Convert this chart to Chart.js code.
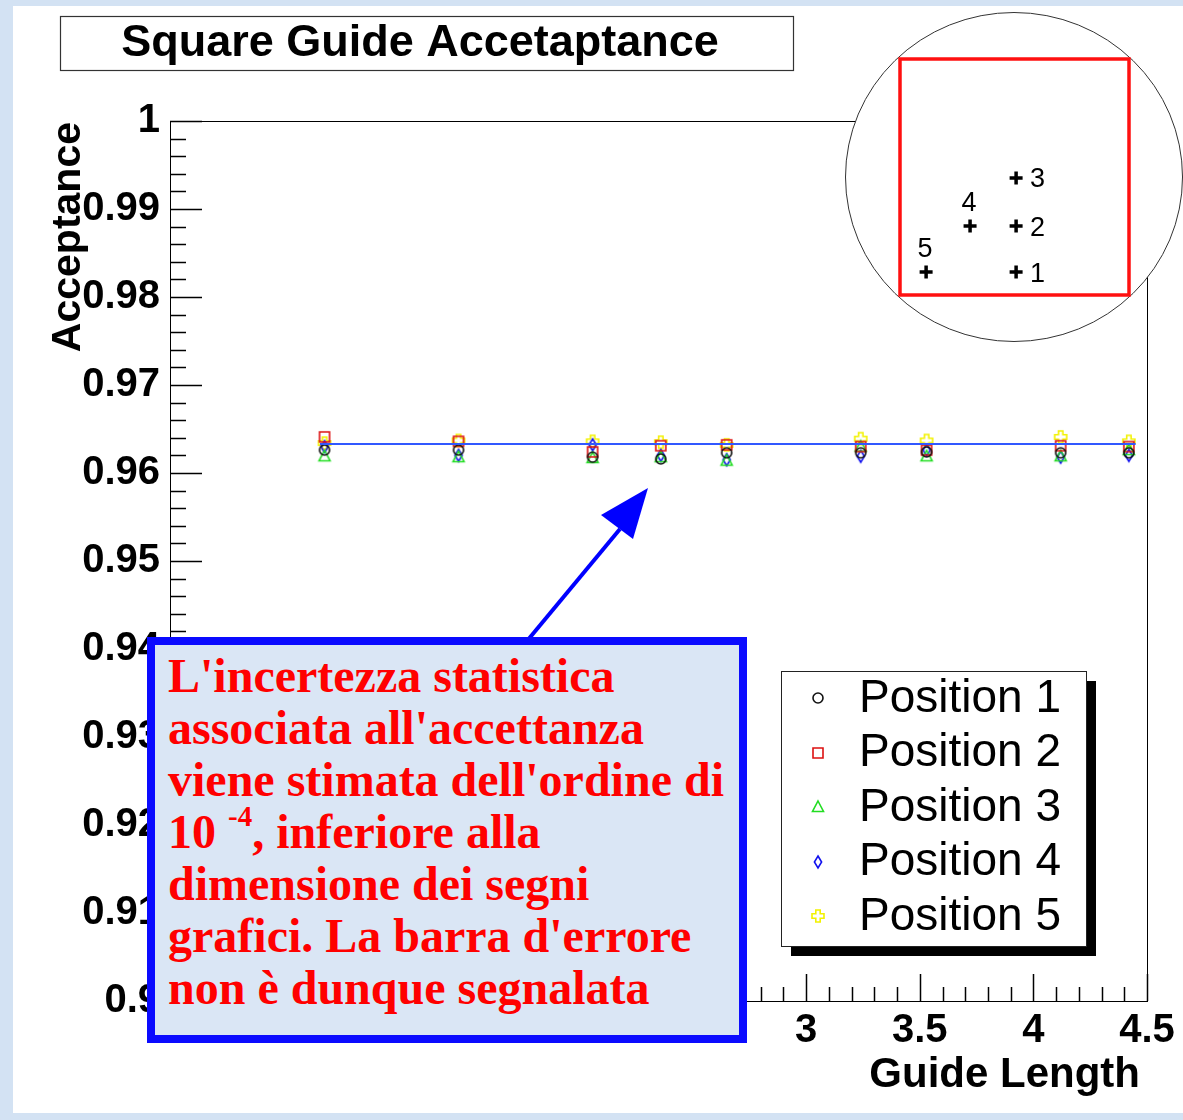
<!DOCTYPE html>
<html>
<head>
<meta charset="utf-8">
<script src="https://cdn.jsdelivr.net/npm/chart.js@4.4.1/dist/chart.umd.min.js"></script>
<style>
  html, body { margin: 0; padding: 0; }
  body {
    width: 1183px; height: 1120px; overflow: hidden; position: relative;
    background: #d3e2f3;
    font-family: "Liberation Sans", Arial, sans-serif;
  }
  #panel { position: absolute; left: 13px; top: 6px; width: 1170px; height: 1107px; background: #ffffff; }
  #main { position: absolute; left: 0; top: 0; }
  #inset { position: absolute; left: 840px; top: 8px; }
  #arrow { position: absolute; left: 0; top: 0; }
  #note {
    position: absolute; left: 147px; top: 637px; width: 600px; height: 406px;
    box-sizing: border-box; border: 8px solid #0b0bff; background: #dae6f5;
    padding: 5px 0 0 13px;
    font-family: "Liberation Serif", "Times New Roman", serif; font-weight: bold;
    font-size: 48px; line-height: 52px; color: #ff0000; white-space: nowrap;
  }
  #note sup { font-size: 29px; line-height: 0; vertical-align: 22px; }
</style>
</head>
<body>
<div id="panel"></div>
<canvas id="main" width="1183" height="1120"></canvas>
<svg id="arrow" width="1183" height="1120">
  <line x1="527" y1="641" x2="620" y2="529" stroke="#0000ff" stroke-width="4"/>
  <polygon points="648,488 633,539 601,515" fill="#0000ff"/>
</svg>
<canvas id="inset" width="343" height="340"></canvas>
<div id="note">L'incertezza statistica<br>associata all'accettanza<br>viene stimata dell'ordine di<br>10 <sup>-4</sup>, inferiore alla<br>dimensione dei segni<br>grafici. La barra d'errore<br>non è dunque segnalata</div>

<script>
// ---- data ----
const guideLength = [0.88, 1.47, 2.06, 2.36, 2.65, 3.24, 3.53, 4.12, 4.42];
const position1 = [0.9626, 0.9626, 0.9618, 0.9616, 0.9623, 0.9623, 0.9624, 0.9623, 0.9623];
const position2 = [0.9641, 0.9636, 0.9624, 0.9631, 0.9632, 0.9630, 0.9626, 0.9631, 0.9630];
const position3 = [0.9619, 0.9618, 0.9617, 0.9618, 0.9614, 0.9630, 0.9619, 0.9619, 0.9626];
const position4 = [0.9630, 0.9620, 0.9632, 0.9620, 0.9615, 0.9619, 0.9626, 0.9618, 0.9620];
const position5 = [0.9634, 0.9637, 0.9636, 0.9635, 0.9632, 0.9639, 0.9637, 0.9641, 0.9636];
const seriesNames = ['Position 1', 'Position 2', 'Position 3', 'Position 4', 'Position 5'];

const fitLength = [0.86, 4.45];
const fitAcceptance = [0.9633, 0.9633];

const xTickValues = [0.5, 1, 1.5, 2, 2.5, 3, 3.5, 4, 4.5];
const xTickLabels = ['0.5', '1', '1.5', '2', '2.5', '3', '3.5', '4', '4.5'];
const yTickValues = [0.9, 0.91, 0.92, 0.93, 0.94, 0.95, 0.96, 0.97, 0.98, 0.99, 1];
const yTickLabels = ['0.9', '0.91', '0.92', '0.93', '0.94', '0.95', '0.96', '0.97', '0.98', '0.99', '1'];

// probe positions inside the guide cross-section (unit square)
const probeX = [0.507, 0.507, 0.507, 0.306, 0.114];
const probeY = [0.097, 0.292, 0.496, 0.292, 0.097];
const probeLabels = ['1', '2', '3', '4', '5'];

// ---- marker images (open ROOT-style markers) ----
function marker(shape, color) {
  const c = document.createElement('canvas');
  c.width = 18; c.height = 18;
  const g = c.getContext('2d');
  g.strokeStyle = color; g.lineWidth = 1.6;
  g.translate(9, 9);
  g.beginPath();
  if (shape === 'circle') g.arc(0, 0, 5, 0, Math.PI * 2);
  else if (shape === 'square') g.rect(-5, -5, 10, 10);
  else if (shape === 'triangle') { g.moveTo(0, -6); g.lineTo(5.5, 4.5); g.lineTo(-5.5, 4.5); g.closePath(); }
  else if (shape === 'diamond') { g.moveTo(0, -6); g.lineTo(3.6, 0); g.lineTo(0, 6); g.lineTo(-3.6, 0); g.closePath(); }
  else if (shape === 'cross') {
    const a = 2.2, b = 6;
    const p = [[-a,-b],[a,-b],[a,-a],[b,-a],[b,a],[a,a],[a,b],[-a,b],[-a,a],[-b,a],[-b,-a],[-a,-a]];
    g.moveTo(p[0][0], p[0][1]);
    for (let i = 1; i < p.length; i++) g.lineTo(p[i][0], p[i][1]);
    g.closePath();
  }
  g.stroke();
  return c;
}
const markers = [
  marker('circle', '#111111'),
  marker('square', '#dd1111'),
  marker('triangle', '#22dd22'),
  marker('diamond', '#1111ee'),
  marker('cross', '#f2f200')
];
const seriesValues = [position1, position2, position3, position4, position5];

// frame, inward tick marks, titles and legend
const decorations = {
  id: 'decorations',
  beforeDatasetsDraw(chart) {
    const { ctx, chartArea: a, scales: { x, y } } = chart;
    ctx.save();
    ctx.strokeStyle = '#000';
    ctx.lineWidth = 1;
    ctx.strokeRect(Math.round(a.left) + 0.5, Math.round(a.top) + 0.5, Math.round(a.right - a.left), Math.round(a.bottom - a.top));
    ctx.lineWidth = 1.5;
    ctx.beginPath();
    // y ticks: major every 0.01, minor every 0.002
    for (let k = 0; k <= 50; k++) {
      const v = 0.9 + k * 0.002;
      const py = Math.round(y.getPixelForValue(v)) + 0.5;
      const len = (k % 5 === 0) ? 32 : 16;
      ctx.moveTo(a.left, py); ctx.lineTo(a.left + len, py);
    }
    // x ticks: major every 0.5, minor every 0.1
    for (let k = 2; k <= 45; k++) {
      const v = k * 0.1;
      const px = Math.round(x.getPixelForValue(v)) + 0.5;
      const len = (k % 5 === 0) ? 27 : 14;
      ctx.moveTo(px, a.bottom); ctx.lineTo(px, a.bottom - len);
    }
    ctx.stroke();
    ctx.restore();
  },
  afterDraw(chart) {
    const { ctx, chartArea: a } = chart;
    ctx.save();
    // title box
    ctx.fillStyle = '#fff';
    ctx.fillRect(60, 16, 733, 54);
    ctx.strokeStyle = '#333';
    ctx.lineWidth = 1.2;
    ctx.strokeRect(60.5, 16.5, 733, 54);
    ctx.fillStyle = '#000';
    ctx.font = "bold 45px 'Liberation Sans', Arial, sans-serif";
    ctx.textAlign = 'center'; ctx.textBaseline = 'middle';
    ctx.fillText('Square Guide Accetaptance', 420, 44);

    // axis titles
    ctx.font = "bold 42px 'Liberation Sans', Arial, sans-serif";
    ctx.textAlign = 'right'; ctx.textBaseline = 'alphabetic';
    ctx.fillText('Guide Length', a.right - 7, 1087);
    ctx.save();
    ctx.font = "bold 41px 'Liberation Sans', Arial, sans-serif";
    ctx.translate(80, a.top + 1);
    ctx.rotate(-Math.PI / 2);
    ctx.textAlign = 'right';
    ctx.fillText('Acceptance', 0, 0);
    ctx.restore();

    // legend with drop shadow
    const L = 781, T = 671, W = 305, H = 275;
    ctx.fillStyle = '#000';
    ctx.fillRect(L + 10, T + 10, W, H);
    ctx.fillStyle = '#fff';
    ctx.fillRect(L, T, W, H);
    ctx.strokeStyle = '#222'; ctx.lineWidth = 1;
    ctx.strokeRect(L + 0.5, T + 0.5, W, H);
    ctx.font = "46px 'Liberation Sans', Arial, sans-serif";
    ctx.textAlign = 'left'; ctx.textBaseline = 'middle';
    ctx.fillStyle = '#000';
    seriesNames.forEach((name, i) => {
      const cy = T + 27 + i * 54.5;
      ctx.drawImage(markers[i], 818 - 9, Math.round(cy) - 9);
      ctx.fillText(name, 859, cy + 1);
    });
    ctx.restore();
  }
};

const datasets = [{
  type: 'line',
  data: fitLength.map((v, i) => ({ x: v, y: fitAcceptance[i] })),
  borderColor: '#3158ff', borderWidth: 2, pointRadius: 0, fill: false
}];
seriesValues.forEach((vals, i) => {
  datasets.push({
    label: seriesNames[i],
    data: guideLength.map((g, k) => ({ x: g, y: vals[k] })),
    pointStyle: markers[i], pointRadius: 6, showLine: false
  });
});

new Chart(document.getElementById('main'), {
  type: 'scatter',
  data: { datasets },
  options: {
    responsive: false, animation: false, devicePixelRatio: 1,
    layout: { padding: { left: 0, top: 121, right: 36, bottom: 0 } },
    plugins: { legend: { display: false }, tooltip: { enabled: false } },
    scales: {
      x: {
        type: 'linear', min: 0.2, max: 4.5,
        afterFit(s) { s.height = 119; },
        afterBuildTicks(s) { s.ticks = xTickValues.map(v => ({ value: v })); },
        ticks: {
          callback: (v, i) => xTickLabels[i], autoSkip: false, maxRotation: 0,
          color: '#000', padding: 6,
          font: { family: "'Liberation Sans', Arial, sans-serif", size: 40, weight: 'bold' }
        },
        grid: { display: false, drawTicks: false },
        border: { display: false }
      },
      y: {
        type: 'linear', min: 0.9, max: 1,
        afterFit(s) { s.width = 170; },
        afterBuildTicks(s) { s.ticks = yTickValues.map(v => ({ value: v })); },
        ticks: {
          callback: (v, i) => yTickLabels[i], autoSkip: false,
          color: '#000', padding: 10,
          font: { family: "'Liberation Sans', Arial, sans-serif", size: 40, weight: 'bold' }
        },
        grid: { display: false, drawTicks: false },
        border: { display: false }
      }
    }
  },
  plugins: [decorations]
});

// inset: probe positions in the guide section
const insetDecor = {
  id: 'insetDecor',
  beforeDraw(chart) {
    const { ctx } = chart;
    ctx.save();
    ctx.beginPath();
    ctx.ellipse(174, 169, 168.5, 164.5, 0, 0, Math.PI * 2);
    ctx.fillStyle = '#fff'; ctx.fill();
    ctx.strokeStyle = '#333'; ctx.lineWidth = 1; ctx.stroke();
    ctx.restore();
  },
  afterDatasetsDraw(chart) {
    const { ctx, chartArea: a, scales: { x, y } } = chart;
    ctx.save();
    ctx.strokeStyle = '#ff1010'; ctx.lineWidth = 3.5;
    ctx.strokeRect(a.left, a.top, a.right - a.left, a.bottom - a.top);
    ctx.fillStyle = '#000';
    ctx.font = "27px 'Liberation Sans', Arial, sans-serif";
    ctx.textBaseline = 'middle';
    probeLabels.forEach((t, i) => {
      const px = x.getPixelForValue(probeX[i]);
      const py = y.getPixelForValue(probeY[i]);
      if (i < 3) { ctx.textAlign = 'left'; ctx.fillText(t, px + 14, py + 2); }
      else { ctx.textAlign = 'center'; ctx.fillText(t, px - 1, py - 23); }
    });
    ctx.restore();
  }
};

new Chart(document.getElementById('inset'), {
  type: 'scatter',
  data: {
    datasets: [{
      data: probeX.map((v, i) => ({ x: v, y: probeY[i] })),
      pointStyle: 'cross', pointRadius: 6.5, borderWidth: 3.5,
      borderColor: '#000', backgroundColor: '#000'
    }]
  },
  options: {
    responsive: false, animation: false, devicePixelRatio: 1,
    layout: { padding: { left: 60, right: 54, top: 51, bottom: 53 } },
    plugins: { legend: { display: false }, tooltip: { enabled: false } },
    scales: {
      x: { type: 'linear', min: 0, max: 1, display: false },
      y: { type: 'linear', min: 0, max: 1, display: false }
    }
  },
  plugins: [insetDecor]
});
</script>
</body>
</html>
